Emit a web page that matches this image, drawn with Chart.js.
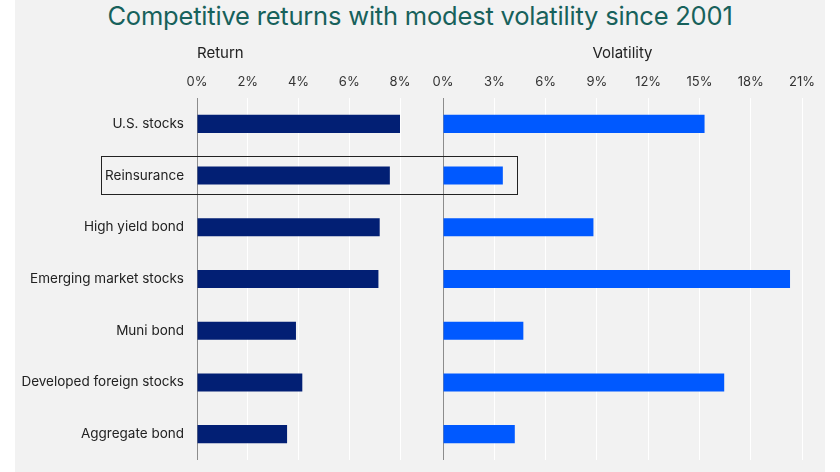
<!DOCTYPE html>
<html>
<head>
<meta charset="utf-8">
<script src="https://cdn.jsdelivr.net/npm/chart.js@4.4.1/dist/chart.umd.min.js"></script>
<style>
  html, body { margin: 0; padding: 0; background: #ffffff; width: 840px; height: 472px; overflow: hidden; }
  #panel { position: absolute; left: 15px; top: 0; width: 810px; height: 472px; background: #f2f2f2; }
  #title { position: absolute; left: 0; top: 0; width: 840px; text-align: center; font-family: Inter, "Noto Sans", sans-serif; font-size: 25.5px; color: #17615b; line-height: 32px; letter-spacing: -0.2px; }
  #wrapL { position: absolute; left: 0; top: 30px; width: 420px; height: 442px; }
  #wrapR { position: absolute; left: 420px; top: 30px; width: 420px; height: 442px; }
  #box { position: absolute; border: 1px solid #222; box-sizing: border-box; }
</style>
</head>
<body>
<div id="panel"></div>
<div id="title">Competitive returns with modest volatility since 2001</div>
<div id="wrapL"><canvas id="cL"></canvas></div>
<div id="wrapR"><canvas id="cR"></canvas></div>
<div id="box"></div>
<script>
const categories = ["U.S. stocks", "Reinsurance", "High yield bond", "Emerging market stocks", "Muni bond", "Developed foreign stocks", "Aggregate bond"];
const returnValues = [8.05, 7.6, 7.2, 7.15, 3.9, 4.15, 3.55];
const volatilityValues = [15.3, 3.5, 8.8, 20.3, 4.7, 16.45, 4.2];
const returnTicks = [0, 2, 4, 6, 8];
const volatilityTicks = [0, 3, 6, 9, 12, 15, 18, 21];
const highlightCategory = "Reinsurance";
const highlightVolatilityEdge = 4.4;

const FONT = 'Inter, "Noto Sans", sans-serif';
Chart.defaults.font.family = FONT;
Chart.defaults.color = '#333333';

function xScaleOpts(ticksArr, titleText, titleAlign) {
  return {
    type: 'linear',
    position: 'top',
    min: ticksArr[0],
    max: ticksArr[ticksArr.length - 1],
    afterBuildTicks: (s) => { s.ticks = ticksArr.map(v => ({ value: v })); },
    afterFit: (s) => { s.height = 68; },
    ticks: { callback: (v) => v + '%', font: { size: 13 }, color: '#333', padding: 8, maxRotation: 0 },
    grid: {
      drawTicks: false,
      color: (c) => (c.tick && c.tick.value === 0) ? '#8c8c8c' : '#ffffff',
      lineWidth: 1
    },
    border: { display: false },
    title: { display: true, text: titleText, align: titleAlign, font: { size: 15 }, color: '#222', padding: { top: 14, bottom: 0 } }
  };
}

const chartL = new Chart(document.getElementById('cL'), {
  type: 'bar',
  data: {
    labels: categories,
    datasets: [{ label: 'Return', data: returnValues, backgroundColor: '#021f74', borderWidth: 0, barPercentage: 0.35, categoryPercentage: 1 }]
  },
  options: {
    indexAxis: 'y',
    responsive: true,
    maintainAspectRatio: false,
    animation: false,
    layout: { padding: { left: 0, right: 20, top: 0, bottom: 12 } },
    plugins: { legend: { display: false }, tooltip: { enabled: false } },
    scales: {
      x: xScaleOpts(returnTicks, 'Return', 'start'),
      y: {
        afterFit: (s) => { s.width = 197; s.paddingTop = 0; s.paddingBottom = 0; },
        ticks: { font: { size: 13.5 }, color: '#222', padding: 13 },
        grid: { display: false, drawTicks: false },
        border: { display: false }
      }
    }
  }
});

const chartR = new Chart(document.getElementById('cR'), {
  type: 'bar',
  data: {
    labels: categories,
    datasets: [{ label: 'Volatility', data: volatilityValues, backgroundColor: '#0059ff', borderWidth: 0, barPercentage: 0.35, categoryPercentage: 1 }]
  },
  options: {
    indexAxis: 'y',
    responsive: true,
    maintainAspectRatio: false,
    animation: false,
    layout: { padding: { left: 0, right: 38, top: 0, bottom: 12 } },
    plugins: { legend: { display: false }, tooltip: { enabled: false } },
    scales: {
      x: xScaleOpts(volatilityTicks, 'Volatility', 'center'),
      y: {
        afterFit: (s) => { s.width = 23; s.paddingTop = 0; s.paddingBottom = 0; },
        ticks: { display: false },
        grid: { display: false, drawTicks: false },
        border: { display: false }
      }
    }
  }
});

(function placeBox() {
  const yS = chartL.scales.y;
  const xR = chartR.scales.x;
  const idx = categories.indexOf(highlightCategory);
  const yc = yS.getPixelForValue(idx);
  const band = yS.height / categories.length;
  const ctx = chartL.ctx;
  ctx.save();
  ctx.font = '13.5px ' + FONT;
  const tw = ctx.measureText(highlightCategory).width;
  ctx.restore();
  const left = yS.right - 13 - tw - 4;
  const right = 420 + xR.getPixelForValue(highlightVolatilityEdge);
  const top = 30 + yc - band * 0.37;
  const bottom = 30 + yc + band * 0.37;
  const b = document.getElementById('box');
  b.style.left = left + 'px';
  b.style.top = top + 'px';
  b.style.width = (right - left) + 'px';
  b.style.height = (bottom - top) + 'px';
})();
</script>
</body>
</html>
